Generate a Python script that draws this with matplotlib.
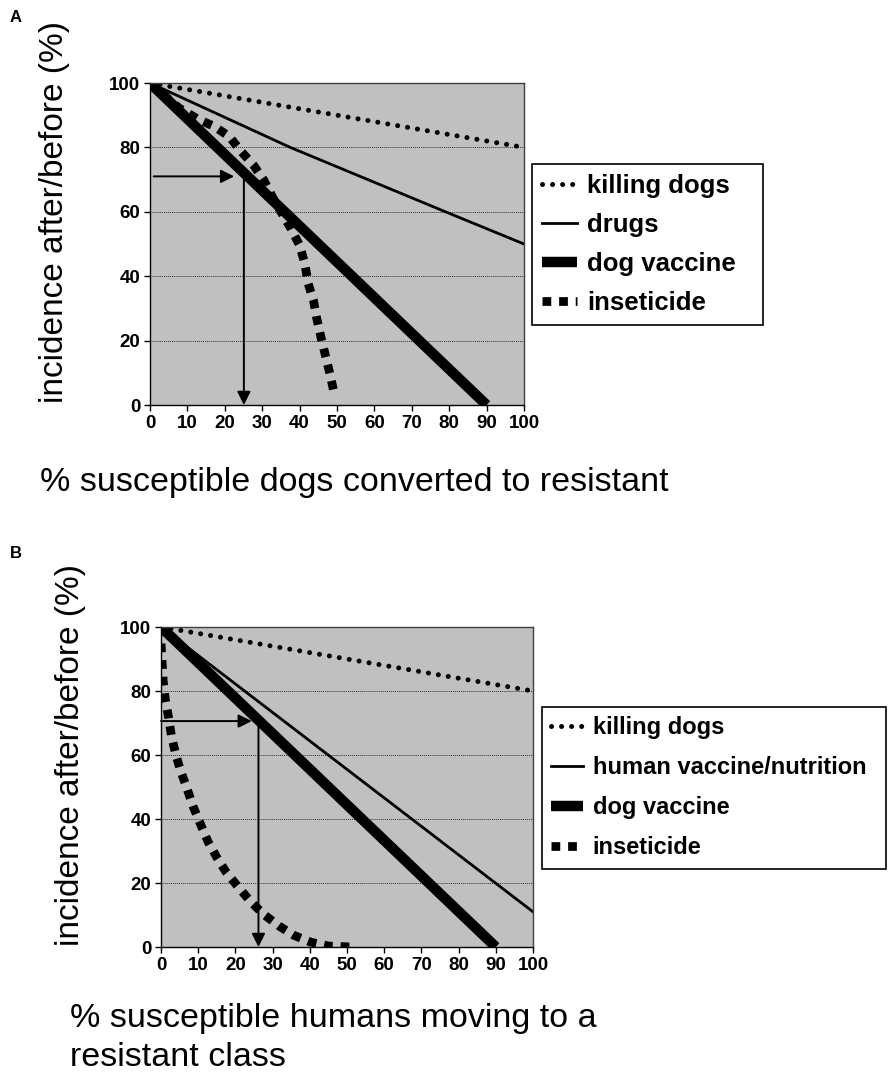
import matplotlib
matplotlib.use("Agg")
import matplotlib.pyplot as plt

plt.rcParams['font.family'] = ['Liberation Sans', 'DejaVu Sans']

W, H = 888, 1081

# ---- panel A data ----
kill_a_x = [0, 100]
kill_a_y = [100, 80]
drugs_x = [0, 37.5, 79, 100]
drugs_y = [100, 80, 60, 50]
dogvac_a_x = [0, 90]
dogvac_a_y = [100, 0]
insect_a_x = [0, 7.8, 12.6, 17.2, 21.2, 24.4, 27.6, 30.4, 32.7, 35, 37.7, 40,
              41.4, 42.3, 43.7, 44.6, 45.7, 46.9, 48.1, 49.2]
insect_a_y = [100, 92.2, 88.9, 86.5, 83.4, 78.7, 74.6, 69.9, 64.7, 60, 54.8, 49.6,
              43.9, 37.7, 32.5, 26.8, 21.1, 15.4, 9.7, 3.9]
arrow_a = dict(level=71, start=1, tip=22.5, drop=25.1)
labels_a = ['killing dogs', 'drugs', 'dog vaccine', 'inseticide']

# ---- panel B data ----
kill_b_x = [0, 100]
kill_b_y = [100, 80]
human_x = [0, 100]
human_y = [100, 11]
dogvac_b_x = [0, 90]
dogvac_b_y = [100, 0]
insect_b_x = [0, 0, 0.3, 0.6, 1.2, 2, 2.8, 4, 5.3, 7, 8.6, 10.4, 12.6, 15, 17.5,
              20.6, 24, 27.6, 31.8, 35.8, 40.3, 45, 51]
insect_b_y = [100, 95, 89, 83, 77, 72, 66, 60, 55, 49.5, 44, 39, 33, 28, 23.4,
              19, 14.3, 10.2, 6.5, 3.6, 1.5, 0.3, 0]
arrow_b = dict(level=70.6, start=0, tip=24.4, drop=26.2)
labels_b = ['killing dogs', 'human vaccine/nutrition', 'dog vaccine', 'inseticide']

fig = plt.figure(figsize=(W / 100, H / 100), dpi=100)


def draw_panel(rect, lines, arrow, labels, leg_box, leg_size, leg_space):
    ax = fig.add_axes(rect)
    ax.set_facecolor('#c0c0c0')
    (kx, ky), (dx, dy), (vx, vy), (ix, iy) = lines
    ax.plot(kx, ky, color='black', lw=3.6, linestyle=(0, (0.01, 2.0)),
            dash_capstyle='round', label=labels[0])
    ax.plot(dx, dy, color='black', lw=2, label=labels[1])
    ax.plot(vx, vy, color='black', lw=7.5, solid_capstyle='butt', label=labels[2])
    ax.plot(ix, iy, color='black', lw=6.3, linestyle=(0, (1, 0.9)),
            dash_capstyle='butt', label=labels[3])

    ap = dict(arrowstyle='-|>', color='black', lw=1.4, mutation_scale=20,
              shrinkA=0, shrinkB=0)
    ax.annotate('', xy=(arrow['tip'], arrow['level']),
                xytext=(arrow['start'], arrow['level']), arrowprops=ap,
                annotation_clip=False)
    ax.annotate('', xy=(arrow['drop'], 0), xytext=(arrow['drop'], arrow['level']),
                arrowprops=ap, annotation_clip=False)

    ax.set_xlim(0, 100)
    ax.set_ylim(0, 100)
    ax.set_xticks(range(0, 101, 10))
    ax.set_yticks(range(0, 101, 20))
    ax.yaxis.grid(True, color='#303030', linestyle=(0, (1, 1)), lw=0.7)
    ax.set_axisbelow(True)
    ax.tick_params(direction='out', length=4, width=1, labelsize=13.5, pad=3)
    for t in ax.get_xticklabels() + ax.get_yticklabels():
        t.set_fontweight('bold')
    for s in ['left', 'bottom']:
        ax.spines[s].set_color('black')
        ax.spines[s].set_linewidth(1)
    for s in ['top', 'right']:
        ax.spines[s].set_color('#404040')
        ax.spines[s].set_linewidth(1)

    leg = ax.legend(loc='upper left', bbox_to_anchor=leg_box,
                    bbox_transform=fig.transFigure, mode='expand',
                    borderaxespad=0, fancybox=False, edgecolor='black',
                    framealpha=1, prop=dict(weight='bold', size=leg_size),
                    handlelength=1.35, handletextpad=0.4, labelspacing=leg_space,
                    borderpad=0.4)
    leg.get_frame().set_linewidth(1.2)
    return ax


draw_panel([150 / W, 1 - 405 / H, 374 / W, 322 / H],
           [(kill_a_x, kill_a_y), (drugs_x, drugs_y), (dogvac_a_x, dogvac_a_y),
            (insect_a_x, insect_a_y)],
           arrow_a, labels_a,
           (532 / W, 1 - 323 / H, 231 / W, 159 / H), 18.5, 0.58)

draw_panel([161 / W, 1 - 947 / H, 372 / W, 320 / H],
           [(kill_b_x, kill_b_y), (human_x, human_y), (dogvac_b_x, dogvac_b_y),
            (insect_b_x, insect_b_y)],
           arrow_b, labels_b,
           (542 / W, 1 - 866 / H, 344 / W, 159 / H), 17, 0.72)

# panel letters and axis titles
fig.text(10 / W, 1 - 18 / H, 'A', fontsize=12, fontweight='bold', va='center')
fig.text(10 / W, 1 - 553 / H, 'B', fontsize=12, fontweight='bold', va='center')

fig.text(55 / W, 1 - 212 / H, 'incidence after/before (%)', rotation=90,
         fontsize=24, ha='center', va='center')
fig.text(70 / W, 1 - 755 / H, 'incidence after/before (%)', rotation=90,
         fontsize=24, ha='center', va='center')

fig.text(40 / W, 1 - 483 / H, '% susceptible dogs converted to resistant',
         fontsize=24.5, ha='left', va='center')
fig.text(70 / W, 1 - 1038 / H, '% susceptible humans moving to a\nresistant class',
         fontsize=24.5, ha='left', va='center', linespacing=1.3)

fig.savefig('out.png', dpi=100)
